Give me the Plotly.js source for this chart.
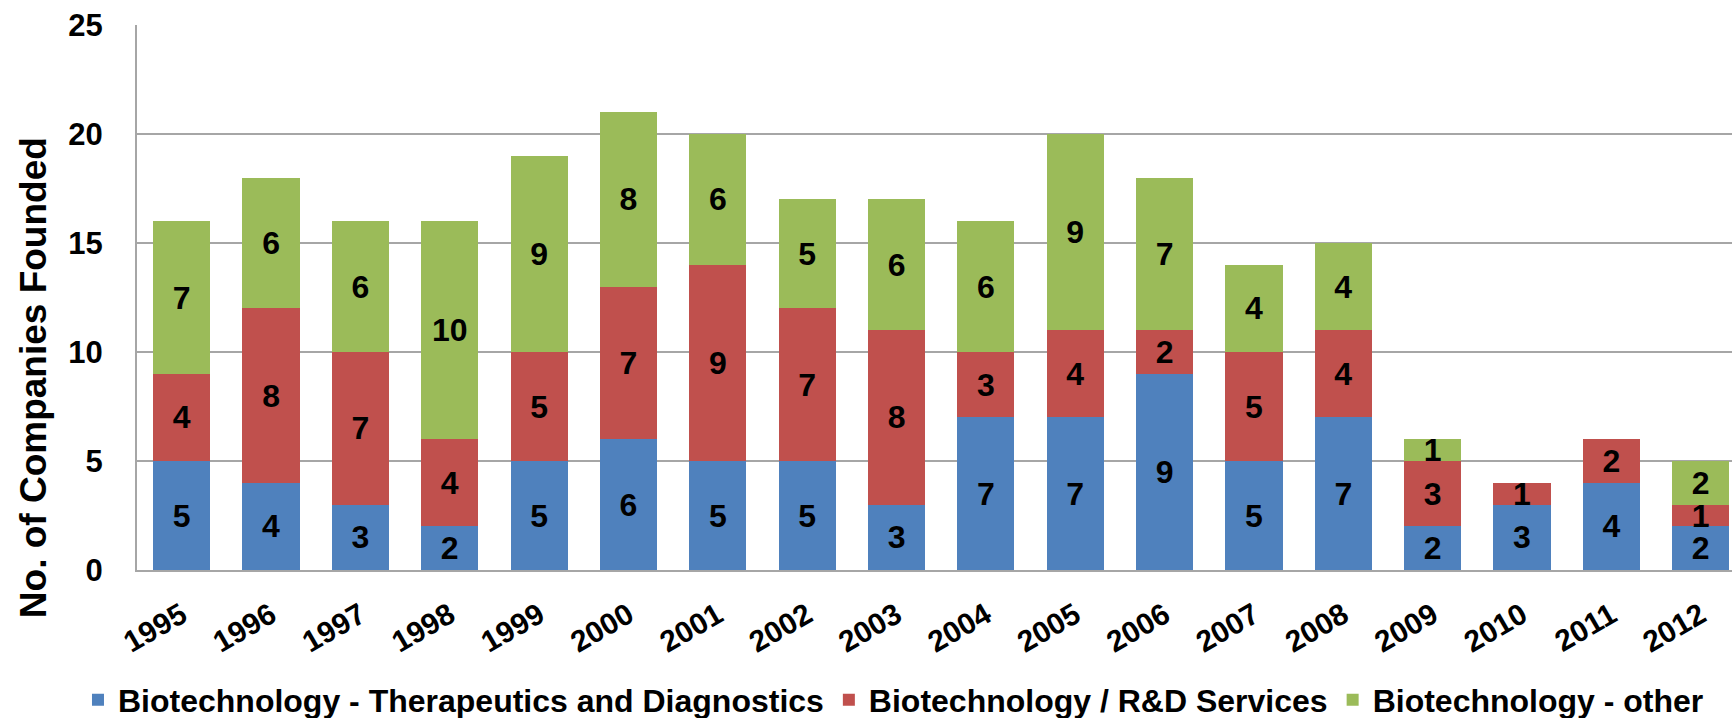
<!DOCTYPE html>
<html>
<head>
<meta charset="utf-8">
<script src="https://cdn.plot.ly/plotly-3.0.1.min.js"></script>
<style>html,body{margin:0;padding:0;background:#fff;}#chart{width:1732px;height:718px;}</style>
</head>
<body>
<div id="chart"></div>
<script>
const years = ['1995','1996','1997','1998','1999','2000','2001','2002','2003','2004','2005','2006','2007','2008','2009','2010','2011','2012'];
const therapeutics = [5,4,3,2,5,6,5,5,3,7,7,9,5,7,2,3,4,2];
const rdServices   = [4,8,7,4,5,7,9,7,8,3,4,2,5,4,3,1,2,1];
const other        = [7,6,6,10,9,8,6,5,6,6,9,7,4,4,1,0,0,2];
const seriesNames = ['Biotechnology - Therapeutics and Diagnostics','Biotechnology / R&D Services','Biotechnology - other'];
const seriesColors = ['#4F81BD','#C0504D','#9BBB59'];
const yTitle = 'No. of Companies Founded';

const FONT = 'Liberation Sans, Arial, sans-serif';
function mk(vals, i){
  return {
    type:'bar', x: years, y: vals, name: seriesNames[i],
    marker:{color: seriesColors[i]},
    text: vals.map(v => v > 0 ? String(v) : ''),
    textposition:'inside', insidetextanchor:'middle', constraintext:'none', textangle:0,
    textfont:{family: FONT, size: 32, color:'#000', weight: 700},
    hoverinfo:'skip'
  };
}
const data = [mk(therapeutics,0), mk(rdServices,1), mk(other,2)];
const layout = {
  width:1732, height:718,
  margin:{l:137, r:0, t:25, b:148, autoexpand:false},
  barmode:'stack', bargap:0.36,
  paper_bgcolor:'#fff', plot_bgcolor:'#fff',
  font:{family: FONT, color:'#000'},
  showlegend:true,
  legend:{orientation:'h', xref:'paper', x:-0.037, xanchor:'left', yref:'paper', y:-0.2385, yanchor:'middle',
          bgcolor:'rgba(0,0,0,0)',
          font:{family: FONT, size:32, color:'#000', weight:700}, itemwidth:30, traceorder:'normal'},
  xaxis:{type:'category', range:[-0.5, 17.35], tickangle:-30, showgrid:false,
         showline:true, linecolor:'#A6A6A6', linewidth:2, ticks:'',
         tickfont:{family: FONT, size:30, weight:700, color:'#000'}, ticklabelstandoff:14},
  yaxis:{range:[0,25], dtick:5, tick0:0, showgrid:true, gridcolor:'#A6A6A6', gridwidth:2,
         showline:true, linecolor:'#A6A6A6', linewidth:2, ticks:'', zeroline:false,
         tickfont:{family: FONT, size:31, weight:700, color:'#000'}, ticklabelstandoff:26},
  annotations:[{text: yTitle, xref:'paper', yref:'paper', x:-0.0652, y:0.352, xanchor:'center', yanchor:'middle',
                textangle:-90, showarrow:false, font:{family: FONT, size:37, weight:700, color:'#000'}}],
  hovermode:false
};
Plotly.newPlot('chart', data, layout, {displayModeBar:false, staticPlot:true});
</script>
</body>
</html>
